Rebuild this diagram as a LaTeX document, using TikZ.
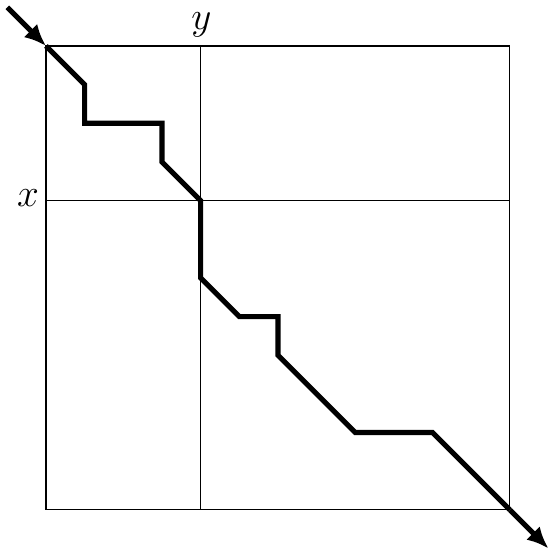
\documentclass[tikz,border=0pt]{standalone}
\usetikzlibrary{arrows.meta}

\begin{document}
\begin{tikzpicture}[
        x=0.5cm, y=-0.5cm,
        grid/.style={draw=black, line width=0.45pt},
        route/.style={draw=black, line width=1.9pt, line join=miter},
        arrow/.style={route, -{Latex[length=8pt, width=7pt]}},
        lbl/.style={font=\Large, inner sep=0pt}
    ]
        \useasboundingbox (-1.19,-1.19) rectangle (13.01,13.09);

        % Frame and split lines
        \draw[grid] (0,0) rectangle (12,12);
        \draw[grid] (4,0) -- (4,12);
        \draw[grid] (0,4) -- (12,4);
        \node[lbl, anchor=base] (ylbl) at (4.02,-0.42) {$y$};
        \node[lbl, anchor=base east] (xlbl) at (-0.17,4.16) {$x$};

        % Route points
        \coordinate (in) at (-1,-1);
        \coordinate (p0) at (0,0);
        \coordinate (p1) at (1,1);
        \coordinate (p2) at (1,2);
        \coordinate (p3) at (3,2);
        \coordinate (p4) at (3,3);
        \coordinate (p5) at (4,4);
        \coordinate (p6) at (4,6);
        \coordinate (p7) at (5,7);
        \coordinate (p8) at (6,7);
        \coordinate (p9) at (6,8);
        \coordinate (p10) at (8,10);
        \coordinate (p11) at (10,10);
        \coordinate (p12) at (12,12);
        \coordinate (out) at (13,13);

        % Route
        \draw[arrow] (in) -- (p0);
        \draw[route] (p0) -- (p1) -- (p2) -- (p3) -- (p4) -- (p5) -- (p6)
            -- (p7) -- (p8) -- (p9) -- (p10) -- (p11) -- (p12);
        \draw[arrow] (p12) -- (out);
    \end{tikzpicture}
\end{document}
